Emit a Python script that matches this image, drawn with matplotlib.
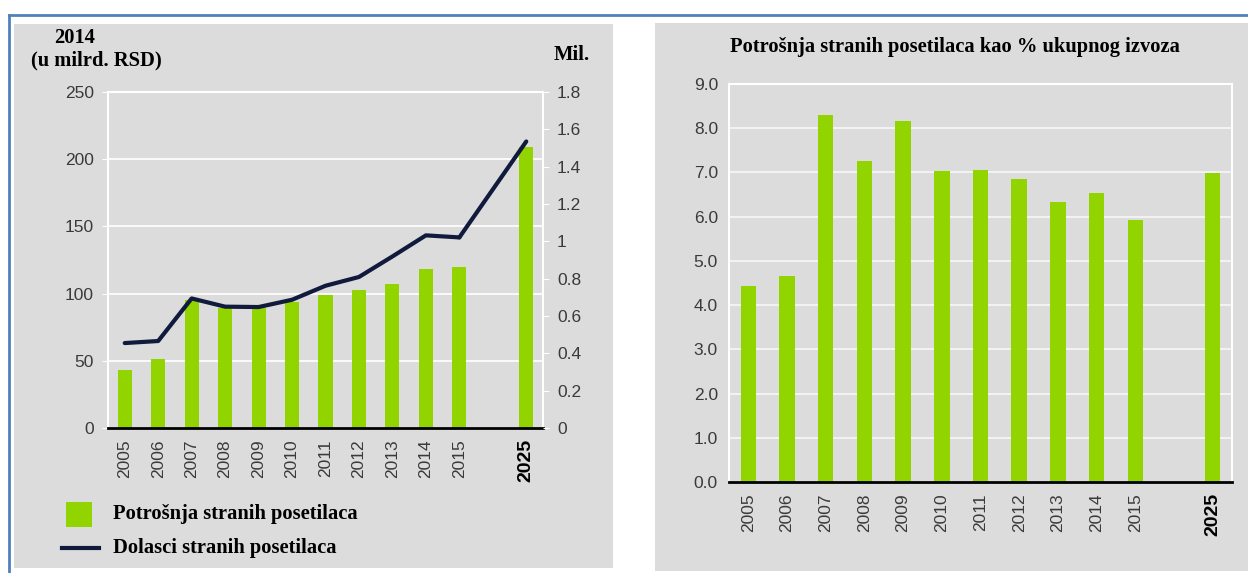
import matplotlib
matplotlib.use("Agg")
import matplotlib.pyplot as plt
from matplotlib.patches import Rectangle
from matplotlib.lines import Line2D
import numpy as np

# podaci
godine = ["2005", "2006", "2007", "2008", "2009", "2010", "2011", "2012", "2013", "2014", "2015", "2025"]
potrosnja = [43, 51, 95, 89, 89, 94, 99, 103, 107, 118, 120, 209]          # milrd. RSD
dolasci = [0.455, 0.466, 0.694, 0.65, 0.648, 0.687, 0.762, 0.809, 0.919, 1.032, 1.021, 1.535]  # mil.
udeo_izvoza = [4.43, 4.65, 8.30, 7.26, 8.16, 7.04, 7.05, 6.86, 6.33, 6.53, 5.92, 6.98]  # %

W, H = 1248, 573
GREEN = "#92d400"
NAVY = "#0f1a3c"
PANEL = "#dcdcdc"
TICK = "#3a3a3a"
SANS = ["Liberation Sans Narrow", "Liberation Sans", "DejaVu Sans"]
SERIF = ["Liberation Serif", "DejaVu Serif"]
FS_SERIF = 14.8

plt.rcParams["font.family"] = SANS

fig = plt.figure(figsize=(W / 100, H / 100), dpi=100)
fig.patch.set_facecolor("white")


def px_rect(x0, y0, x1, y1):
    # pixel box (top-left origin) -> figure fraction
    return [x0 / W, 1 - y1 / H, (x1 - x0) / W, (y1 - y0) / H]


# sivi paneli (ispod osa)
for x0, y0, x1, y1 in [(14, 24, 613, 568), (655, 23, 1248, 571)]:
    fig.patches.append(Rectangle((x0 / W, 1 - y1 / H), (x1 - x0) / W, (y1 - y0) / H,
                                 transform=fig.transFigure, facecolor=PANEL, edgecolor="none", zorder=-5))
# plavi okvir
fig.lines.append(Line2D([9 / W, 1], [1 - 15 / H, 1 - 15 / H], transform=fig.transFigure, color="#4f81bd", lw=2))
fig.lines.append(Line2D([9 / W, 9 / W], [1 - 15 / H, 0], transform=fig.transFigure, color="#4f81bd", lw=2))

pos = np.array([0, 1, 2, 3, 4, 5, 6, 7, 8, 9, 10, 12])


def style_axes(ax):
    ax.set_facecolor(PANEL)
    ax.set_xlim(-0.5, 12.5)
    for s in ["left", "right", "top"]:
        ax.spines[s].set_color("white")
        ax.spines[s].set_linewidth(1.5)
    ax.spines["bottom"].set_color("black")
    ax.spines["bottom"].set_linewidth(2)
    ax.set_xticks(pos)
    ax.set_xticklabels(godine, rotation=90, fontsize=12.5, color=TICK)
    ax.tick_params(axis="x", length=0, pad=8)
    ax.tick_params(axis="y", colors="white", labelcolor=TICK, labelsize=12.5, length=4, pad=6)
    lbl = ax.get_xticklabels()[-1]
    lbl.set_fontweight("bold")
    lbl.set_color("black")
    lbl.set_fontsize(14)
    lbl.set_family(["Liberation Sans", "DejaVu Sans"])
    ax.grid(axis="y", color="white", lw=1.2)
    ax.set_axisbelow(True)


# levi grafikon
ax1 = fig.add_axes(px_rect(108, 92, 543, 428))
style_axes(ax1)
ax1.bar(pos, potrosnja, width=0.42, color=GREEN, zorder=2)
ax1.set_ylim(0, 250)
ax1.set_yticks(range(0, 251, 50))

ax2 = ax1.twinx()
ax2.plot(pos[:-1], dolasci[:-1], color=NAVY, lw=3, solid_capstyle="round", zorder=3)
ax2.plot(pos[-2:], dolasci[-2:], color=NAVY, lw=3, solid_capstyle="round", zorder=3)
ax2.set_ylim(0, 1.8)
ax2.set_yticks([0, 0.2, 0.4, 0.6, 0.8, 1, 1.2, 1.4, 1.6, 1.8])
ax2.set_yticklabels(["0", "0.2", "0.4", "0.6", "0.8", "1", "1.2", "1.4", "1.6", "1.8"])
ax2.tick_params(axis="y", colors="white", labelcolor=TICK, labelsize=12.5, length=4, pad=6)
for s in ax2.spines.values():
    s.set_visible(False)

fig.text(75 / W, 1 - 38 / H, "2014", ha="center", va="center", family=SERIF, fontweight="bold", fontsize=FS_SERIF)
fig.text(96 / W, 1 - 60 / H, "(u milrd. RSD)", ha="center", va="center", family=SERIF, fontweight="bold", fontsize=FS_SERIF)
fig.text(572 / W, 1 - 55 / H, "Mil.", ha="center", va="center", family=SERIF, fontweight="bold", fontsize=FS_SERIF)

# legenda
fig.patches.append(Rectangle((66 / W, 1 - 527 / H), 26 / W, 25 / H, transform=fig.transFigure,
                             facecolor=GREEN, edgecolor="none"))
fig.lines.append(Line2D([62 / W, 99 / W], [1 - 548 / H, 1 - 548 / H], transform=fig.transFigure, color=NAVY, lw=3))
fig.text(113 / W, 1 - 514 / H, "Potrošnja stranih posetilaca", ha="left", va="center",
         family=SERIF, fontweight="bold", fontsize=FS_SERIF)
fig.text(113 / W, 1 - 548 / H, "Dolasci stranih posetilaca", ha="left", va="center",
         family=SERIF, fontweight="bold", fontsize=FS_SERIF)

# desni grafikon
ax3 = fig.add_axes(px_rect(729, 84, 1232, 482))
style_axes(ax3)
ax3.bar(pos, udeo_izvoza, width=0.40, color=GREEN, zorder=2)
ax3.set_ylim(0, 9)
ax3.set_yticks(np.arange(0, 9.1, 1))
ax3.set_yticklabels([f"{v:.1f}" for v in np.arange(0, 9.1, 1)])
ax3.tick_params(axis="y", length=0, pad=8)
ax3.grid(axis="y", color="#f2f2f2", lw=1.5)

fig.text(955 / W, 1 - 47 / H, "Potrošnja stranih posetilaca kao % ukupnog izvoza", ha="center", va="center",
         family=SERIF, fontweight="bold", fontsize=FS_SERIF)

fig.savefig("out.png", dpi=100)
